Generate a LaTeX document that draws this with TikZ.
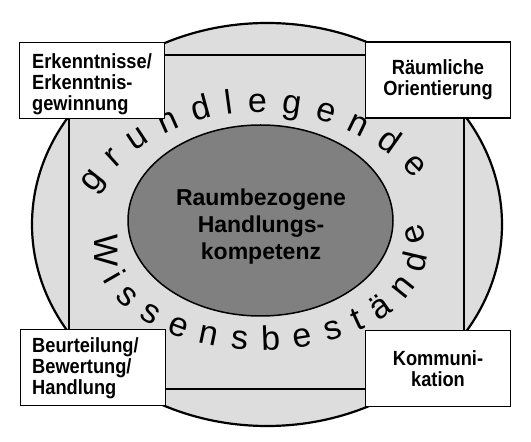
\documentclass[tikz,border=0pt]{standalone}
\usepackage{fontspec}
\setmainfont{Liberation Sans}
\newfontfamily\boxfont[FakeStretch=0.89]{Liberation Sans}
\usetikzlibrary{decorations.text}
\definecolor{lightfill}{RGB}{221,221,221}
\definecolor{darkfill}{RGB}{128,128,128}
\newcommand\curvefont{\fontsize{34}{34}\selectfont}
\tikzset{
  labelbox/.style={draw=black, line width=1.6pt, fill=white, minimum width=145pt, minimum height=76pt, inner sep=0pt},
  boxtext/.style={font=\boxfont\bfseries\fontsize{20.5}{21}\selectfont, inner sep=0pt},
  arctext/.style={decorate, decoration={text along path, text align={fit to path stretching spaces}}},
}
\begin{document}
\begin{tikzpicture}[x=1pt,y=1pt]
\useasboundingbox (0,0) rectangle (531,442);
% outer ellipse
\draw[line width=2.2pt, fill=lightfill] (267,217.5) ellipse [x radius=235, y radius=201.5];
% inner rectangle lines
\draw[line width=1.3pt] (69,387) rectangle (464,53);
% inner ellipse
\draw[line width=1.5pt, fill=darkfill] (260.5,221.5) ellipse [x radius=132.5, y radius=95.5];
\node[font=\bfseries\fontsize{23}{27}\selectfont, align=center, inner sep=0pt] (core) at (261,215) {Raumbezogene\\Handlungs-\\kompetenz};
% curved texts
\path[arctext, decoration={text={|\curvefont|g r u n d l e g e n d e}}]
  (260,156) ++(148:196 and 174) arc[start angle=148, end angle=38, x radius=196, y radius=174];
\path[arctext, decoration={text={|\curvefont|W i s s e n s b e s t ä n d e}}]
  (261,192) ++(171:166 and 100) arc[start angle=171, end angle=376, x radius=166, y radius=100];
% boxes
\node[labelbox] (b1) at (92,361.5) {};
\node[boxtext, anchor=north west, align=left] (t1) at (32,388.5) {Erkenntnisse/\\Erkenntnis-\\gewinnung};
\node[labelbox, boxtext, align=center] (b2) at (438,362) {Räumliche\\Orientierung};
\node[labelbox] (b3) at (93,74.5) {};
\node[boxtext, anchor=north west, align=left] (t3) at (32,104.5) {Beurteilung/\\Bewertung/\\Handlung};
\node[labelbox, boxtext, align=center] (b4) at (438,73.5) {Kommuni-\\kation};
\end{tikzpicture}
\end{document}
